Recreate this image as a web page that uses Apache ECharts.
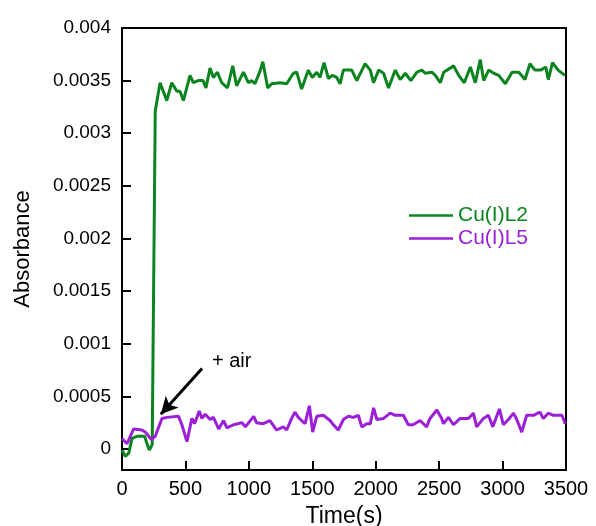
<!DOCTYPE html>
<html><head><meta charset="utf-8">
<script src="https://cdn.jsdelivr.net/npm/echarts@6/dist/echarts.min.js"></script>
<style>html,body{margin:0;padding:0;background:#fff}#c{width:596px;height:526px}</style>
</head><body><div id="c"></div>
<script>
var seriesNames = ['Cu(I)L2', 'Cu(I)L5'];
var l2Time = [0,26,53,79,118,178,197,215,238,262,300,353,392,432,457,484,536,562,601,639,662,694,720,752,786,831,873,904,957,996,1022,1048,1088,1110,1149,1180,1246,1298,1351,1377,1416,1469,1500,1535,1561,1593,1627,1658,1693,1719,1745,1811,1851,1916,1957,1983,2023,2062,2101,2154,2193,2233,2277,2325,2364,2390,2443,2470,2509,2536,2614,2654,2698,2746,2785,2824,2851,2890,2930,2970,3022,3075,3128,3177,3216,3255,3300,3341,3360,3394,3438,3491];
var l2Abs = [-0.00001,-0.00007,-0.00004,0.0001,0.00012,0.00012,0.00005,-0.00001,0.00004,0.00321,0.00348,0.00331,0.00348,0.0034,0.0034,0.00331,0.00355,0.00348,0.0035,0.0035,0.00343,0.00362,0.00353,0.00358,0.00348,0.00343,0.00364,0.00345,0.00358,0.00348,0.0035,0.00347,0.00359,0.00368,0.00343,0.00347,0.00348,0.00347,0.00357,0.00358,0.00342,0.0036,0.00353,0.00358,0.00353,0.00367,0.00352,0.00355,0.00353,0.00347,0.0036,0.0036,0.0035,0.00366,0.0036,0.00348,0.0036,0.00357,0.00343,0.0036,0.00351,0.00357,0.0035,0.00358,0.0036,0.00357,0.00358,0.00355,0.00348,0.00358,0.00364,0.00355,0.00348,0.00363,0.00348,0.0037,0.0035,0.0036,0.00357,0.00355,0.00347,0.00358,0.00358,0.00351,0.00366,0.0036,0.0036,0.00363,0.00351,0.00367,0.0036,0.00355];
var l5Time = [0,13,40,92,157,184,231,262,315,354,446,472,512,551,572,609,630,656,695,721,762,801,827,880,946,972,1038,1060,1114,1166,1219,1271,1298,1337,1363,1390,1416,1443,1477,1503,1535,1587,1640,1666,1705,1745,1784,1824,1863,1890,1930,1957,1983,2009,2062,2114,2154,2218,2257,2296,2349,2401,2428,2482,2520,2534,2573,2613,2666,2706,2731,2770,2796,2849,2888,2923,2975,3006,3046,3086,3112,3151,3190,3243,3295,3321,3360,3400,3468,3494];
var l5Abs = [0.0001,0.0001,0.00005,0.00019,0.00018,0.00016,0.00009,0.00012,0.00029,0.0003,0.00031,0.00023,0.00007,0.00029,0.00024,0.00036,0.00029,0.00033,0.00028,0.0003,0.00019,0.00027,0.0002,0.00023,0.00025,0.00021,0.00031,0.00025,0.00024,0.00027,0.00018,0.00021,0.00018,0.00029,0.00035,0.0003,0.00027,0.00024,0.00041,0.00016,0.00031,0.00032,0.00027,0.00023,0.00018,0.00028,0.00031,0.0003,0.00032,0.00021,0.00024,0.00024,0.00039,0.00028,0.00029,0.00034,0.00032,0.00032,0.00023,0.00023,0.00027,0.00021,0.00029,0.00037,0.00029,0.00024,0.0003,0.00023,0.00029,0.00029,0.00029,0.00034,0.00021,0.00029,0.00032,0.00021,0.00038,0.00023,0.00028,0.00034,0.00028,0.00016,0.00032,0.00032,0.00035,0.00029,0.00034,0.00032,0.00032,0.00024];
var yTicks = [0, 0.0005, 0.001, 0.0015, 0.002, 0.0025, 0.003, 0.0035, 0.004];
var xTicks = [0, 500, 1000, 1500, 2000, 2500, 3000, 3500];
var arrowFrom = [631, 0.000765];
var arrowTo = [306, 0.00033];
var annText = '+ air';
var annPos = [865, 0.00083];

var green = '#0b8420', purple = '#9a1fd6';
var font = '"Liberation Sans", Arial, sans-serif';
function pairs(t, v) { return t.map(function (x, i) { return [x, v[i]]; }); }

var chart = echarts.init(document.getElementById('c'));
chart.setOption({
  animation: false,
  backgroundColor: '#fff',
  grid: { left: 122, top: 28, right: 30, bottom: 56, show: true, borderColor: '#000', borderWidth: 2,
    containLabel: false, outerBoundsMode: 'none' },
  legend: {
    orient: 'vertical', left: 404, top: 200, itemWidth: 44, itemHeight: 2.5, itemGap: 2,
    icon: 'rect',
    textStyle: { fontFamily: font, fontSize: 21, padding: [0, 0, 0, 0] },
    data: [
      { name: seriesNames[0], itemStyle: { color: green }, textStyle: { color: green } },
      { name: seriesNames[1], itemStyle: { color: purple }, textStyle: { color: purple } }
    ]
  },
  xAxis: {
    type: 'value', min: 0, max: 3500, interval: 500,
    name: 'Time(s)', nameLocation: 'middle', nameGap: 35,
    nameTextStyle: { fontFamily: font, fontSize: 23, color: '#000' },
    axisLine: { show: true, onZero: false, lineStyle: { color: '#000', width: 2 } },
    axisTick: { show: true, inside: true, length: 9, lineStyle: { color: '#000', width: 2 }, customValues: xTicks },
    axisLabel: { fontFamily: font, fontSize: 20, color: '#000', margin: 9, customValues: xTicks,
      formatter: function (v) { return String(v); } },
    splitLine: { show: false }
  },
  yAxis: {
    type: 'value', min: -0.0002, max: 0.004,
    name: 'Absorbance', nameLocation: 'middle', nameGap: 88, nameRotate: 90,
    nameTextStyle: { fontFamily: font, fontSize: 22, color: '#000' },
    axisLine: { show: true, onZero: false, lineStyle: { color: '#000', width: 2 } },
    axisTick: { show: true, inside: true, length: 9, lineStyle: { color: '#000', width: 2 }, customValues: yTicks },
    axisLabel: { fontFamily: font, fontSize: 19, color: '#000', margin: 11, customValues: yTicks,
      formatter: function (v) { return String(+(+v).toFixed(4)); } },
    splitLine: { show: false }
  },
  series: [
    {
      name: seriesNames[0], type: 'line', data: pairs(l2Time, l2Abs), showSymbol: false, symbol: 'none',
      lineStyle: { color: green, width: 3 }, itemStyle: { color: green }, z: 3
    },
    {
      name: seriesNames[1], type: 'line', data: pairs(l5Time, l5Abs), showSymbol: false, symbol: 'none',
      lineStyle: { color: purple, width: 3 }, itemStyle: { color: purple }, z: 4,
      markLine: {
        silent: true, symbol: ['none', 'arrow'], symbolSize: [13, 17],
        label: { show: false },
        lineStyle: { color: '#000', width: 3, type: 'solid' },
        emphasis: { disabled: true },
        data: [[{ coord: arrowFrom }, { coord: arrowTo }]]
      },
      markPoint: {
        silent: true, symbol: 'circle', symbolSize: 0,
        label: { show: true, formatter: annText, color: '#000', fontFamily: font, fontSize: 20, position: 'inside' },
        data: [{ coord: annPos }]
      }
    }
  ]
});
</script>
</body></html>
